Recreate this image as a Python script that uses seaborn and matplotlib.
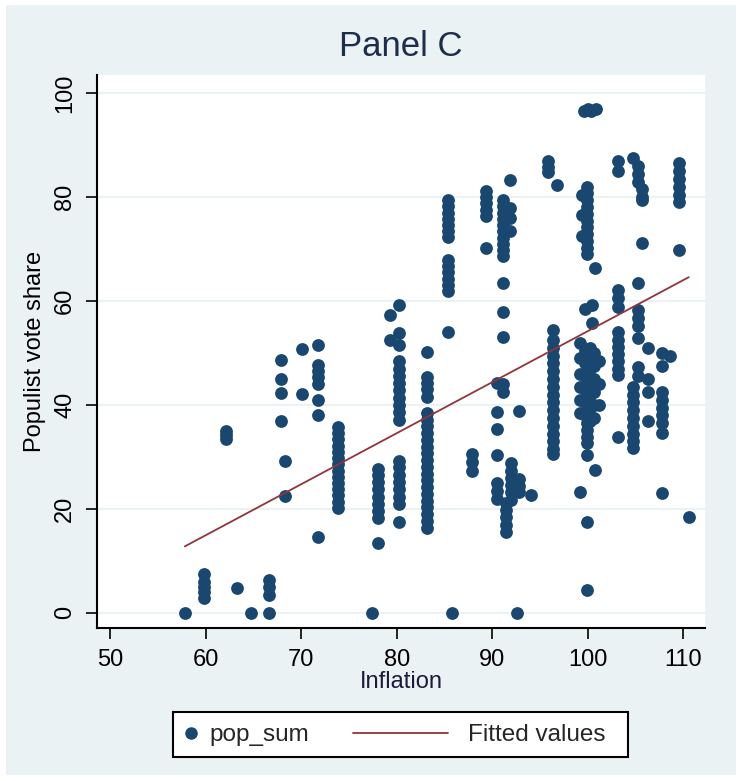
import numpy as np
import pandas as pd
import matplotlib
matplotlib.use('Agg')
import matplotlib.pyplot as plt
import seaborn as sns
from matplotlib.lines import Line2D
from matplotlib.patches import Rectangle
from matplotlib.legend_handler import HandlerLine2D

# Inflation value of each column of points, and the vote shares found in it
cluster_x = [57.8, 59.8, 62.1, 63.3, 64.7, 66.6, 67.9, 68.3, 70.1, 71.8,
             73.8, 77.4, 78.0, 79.3, 80.2, 83.2, 85.4, 85.8, 87.9, 89.4,
             91.1, 90.5, 91.5, 92.0, 92.8, 91.9, 92.6, 94.1, 95.9, 96.8,
             96.4, 99.6, 100.0, 100.4, 100.9, 99.4, 99.9, 100.8, 100.5, 99.2,
             99.7, 100.2, 100.7, 101.2, 103.2, 104.8, 105.3, 105.7, 106.3, 107.8,
             108.6, 109.6, 110.6]
cluster_y = [
    [0],
    [2.8, 4, 5, 6, 7.5],
    [33.5, 34.2, 35],
    [4.8],
    [0],
    [0, 3.5, 5, 6.3],
    [48.7, 45, 42.3, 37],
    [29.2, 22.5],
    [50.8, 42.1],
    [51.5, 47.7, 46.5, 45.3, 44, 41, 38, 14.6],
    [35.8, 34.6, 33.4, 32.2, 31, 29.8, 28.6, 27.4, 26.2, 25, 23.8, 22.6, 21.4, 20.2],
    [0],
    [13.5, 18.3, 19.6, 21, 22.4, 23.8, 25.2, 26.6, 27.6],
    [57.3, 52.5],
    [59.2, 53.8, 51.5, 48.4, 47, 45.6, 44.2, 42.8, 41.4, 40, 38.6, 37.2,
     29.2, 28, 26.6, 25.2, 23.8, 22.4, 21, 17.5],
    [50.2, 45.4, 44.2, 43, 41.5, 38.5, 37.2, 35.9, 34.6, 33.3, 32, 30.7, 29.4,
     28.1, 26.8, 25.5, 24.2, 22.9, 21.6, 20.3, 19, 17.7, 16.4],
    [79.4, 78.2, 77, 75.8, 74.6, 73.4, 72.3, 67.9, 66.7, 65.5, 64.3, 63.1, 62, 54],
    [0],
    [30.6, 29, 27.4],
    [81.2, 80, 78.8, 77.6, 76.4, 70.2],
    [79.4, 78.2, 77, 75.8, 74.6, 73.4, 72.2, 71, 69.8, 68.6, 63.5, 57.9, 53, 44, 42.5],
    [44.2, 38.7, 35.4, 30.4, 25, 23.5, 22],
    [21.2, 19.8, 18.4, 17, 15.6],
    [28.8, 27.4, 26, 24.6, 23.2, 21.8],
    [38.9, 25.8, 24.5, 23.2],
    [83.3, 78, 76, 73.5],
    [0],
    [22.7],
    [87, 85.8, 84.8],
    [82.3],
    [54.4, 52.5, 51, 49.5, 48, 46.5, 45, 43.5, 42, 40.5, 39, 37.5, 36, 34.5,
     33, 31.5, 30.6],
    [96.5],
    [97],
    [96.5],
    [97],
    [80.5, 76.5, 72.5],
    [82, 80.7, 79.4, 78.1, 76.8, 75.5, 74.2, 72.9, 71.6, 70.3, 69,
     36.5, 35.2, 33.9, 32.7, 30.4, 17.5, 4.5],
    [66.3, 27.5],
    [59.2, 55.8],
    [52, 49, 46, 43.5, 41, 38.5, 23.3],
    [50.5, 48, 45.5, 43, 40.5, 38, 58.5],
    [51, 49.5, 47, 44.5, 42, 39.5, 37],
    [50, 47.5, 45, 42.5, 40, 37.5],
    [48.5, 44, 40],
    [87, 85, 62.1, 60.5, 58.8, 54, 52.6, 51.2, 49.8, 48.4, 47, 45.8, 33.8],
    [87.5, 43.5, 42, 40.5, 39, 37.5, 36, 34.5, 33, 31.7],
    [86, 84.5, 83, 63.5, 58.3, 56.8, 55.3, 52.9, 47.3, 45.5],
    [81.5, 80, 79.4, 71.2],
    [51, 45, 42.5, 37],
    [50, 47.5, 42.5, 41, 39.5, 38, 36.5, 34.6, 23],
    [49.5],
    [86.5, 85, 83.5, 82, 80.5, 79, 69.8],
    [18.5],
]

# fitted regression line (end points)
fit_x = [57.8, 110.6]
fit_y = [12.8, 64.6]

x_ticks = [50, 60, 70, 80, 90, 100, 110]
y_ticks = [0, 20, 40, 60, 80, 100]

navy = '#1a476f'
maroon = '#90353b'
bg = '#eaf2f3'

rows = []
for cx, ys in zip(cluster_x, cluster_y):
    for cy in ys:
        rows.append((cx, cy))
df = pd.DataFrame(rows, columns=['inflation', 'pop_sum'])

sns.set_style('white')
plt.rcParams['font.family'] = ['Liberation Sans', 'DejaVu Sans']

W, H = 742, 781
fig = plt.figure(figsize=(W / 100, H / 100), dpi=100)
fig.patch.set_facecolor('white')
# light graph region behind everything
fig.patches.append(Rectangle((6 / W, 1 - 775 / H), 730 / W, 770 / H,
                             transform=fig.transFigure, facecolor=bg,
                             edgecolor='none', zorder=-10))

ax = fig.add_axes([97 / W, 1 - 628 / H, 608 / W, 553 / H])
ax.set_facecolor('white')

sns.scatterplot(data=df, x='inflation', y='pop_sum', color=navy, s=85,
                linewidth=0, ax=ax, legend=False, zorder=3)
sns.lineplot(x=fit_x, y=fit_y, color=maroon, lw=1.3, ax=ax, zorder=4)

ax.set_xlim(48.6, 112.3)
ax.set_ylim(-2.9, 103.5)
ax.set_xticks(x_ticks)
ax.set_yticks(y_ticks)
ax.set_xticklabels([str(t) for t in x_ticks])
ax.set_yticklabels([str(t) for t in y_ticks], rotation=90, va='center')

ax.yaxis.grid(True, color=bg, lw=1.5)
ax.xaxis.grid(False)
ax.set_axisbelow(True)

for side in ['top', 'right']:
    ax.spines[side].set_visible(False)
for side in ['left', 'bottom']:
    ax.spines[side].set_color('black')
    ax.spines[side].set_linewidth(1.5)

ax.tick_params(direction='out', length=8, width=1.2, colors='black',
               labelsize=17, pad=7, left=True, bottom=True)

ax.set_xlabel('Inflation', fontsize=17, labelpad=0, color='#1c1c3c')
ax.set_ylabel('Populist vote share', fontsize=17, labelpad=6, color='black')

fig.text(401 / W, 1 - 46 / H, 'Panel C', ha='center', va='center',
         fontsize=25, color='#1e2d4b')


# legend: marker entry stays short, the line entry reaches back to the left
class WideLine(HandlerLine2D):
    def get_xdata(self, legend, xdescent, ydescent, width, height, fontsize):
        x0 = -xdescent - 4.4 * width
        x1 = -xdescent + 0.5 * width
        return np.array([x0, x1]), np.array([(x0 + x1) / 2])


h_dot = Line2D([], [], marker='o', color=navy, linestyle='none', markersize=8)
h_fit = Line2D([], [], color=maroon, lw=1.3)
leg = ax.legend([h_dot, h_fit], ['pop_sum', 'Fitted values'],
                loc='center left', bbox_to_anchor=(173 / W, 1 - 735 / H),
                bbox_transform=fig.transFigure, ncol=2, fontsize=17.5,
                frameon=False, borderaxespad=0,
                handlelength=0.8, handletextpad=0.4, borderpad=0.32,
                columnspacing=5.3, handler_map={h_fit: WideLine()})

# legend frame drawn as its own box
fig.patches.append(Rectangle((173 / W, 1 - 757 / H), 455 / W, 45 / H,
                             transform=fig.transFigure, facecolor='white',
                             edgecolor='black', lw=1.5, zorder=-5))

fig.savefig('out.png', dpi=100, facecolor=fig.get_facecolor())
